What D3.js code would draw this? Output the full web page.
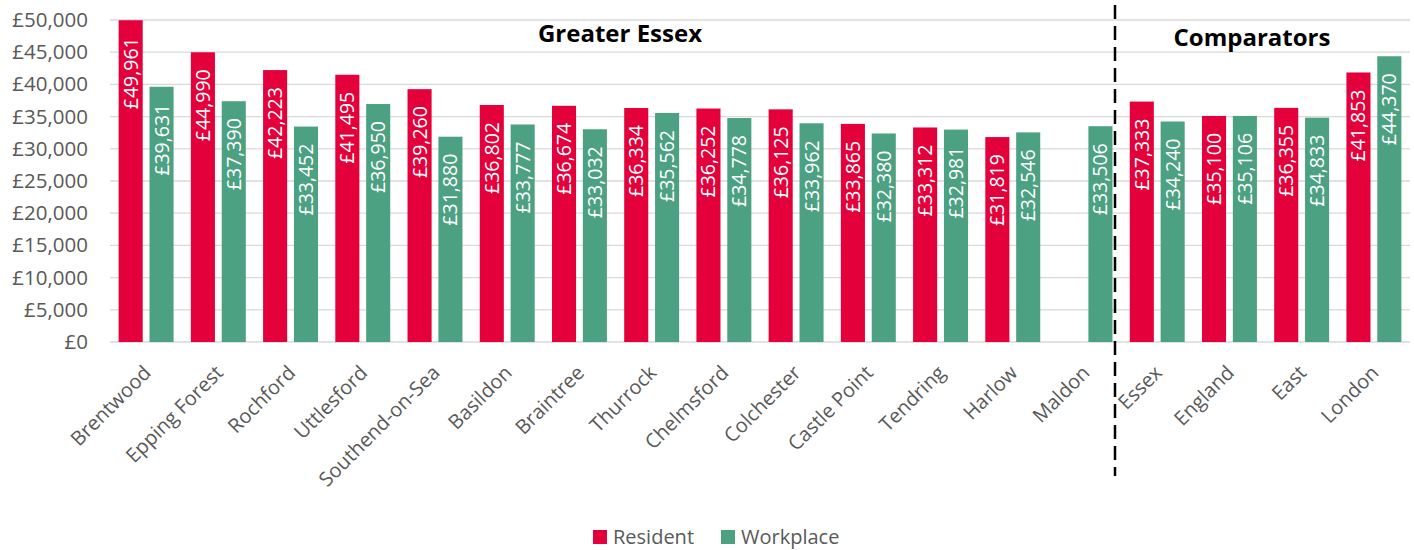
<!DOCTYPE html>
<html><head><meta charset="utf-8">
<script src="https://cdn.jsdelivr.net/npm/d3@7"></script>
<style>body{margin:0;background:#fff;} svg{display:block;}</style>
</head><body>
<svg id="c" width="1414" height="550"></svg>
<script>
const categories = ["Brentwood","Epping Forest","Rochford","Uttlesford","Southend-on-Sea","Basildon","Braintree","Thurrock","Chelmsford","Colchester","Castle Point","Tendring","Harlow","Maldon","Essex","England","East","London"];
const resident = [49961,44990,42223,41495,39260,36802,36674,36334,36252,36125,33865,33312,31819,null,37333,35100,36355,41853];
const workplace = [39631,37390,33452,36950,31880,33777,33032,35562,34778,33962,32380,32981,32546,33506,34240,35106,34833,44370];
const seriesNames = ["Resident","Workplace"];
const colors = ["#E4003B","#4BA182"];
const yTicks = [0,5000,10000,15000,20000,25000,30000,35000,40000,45000,50000];

(function(){
const svg = d3.select("#c");
const font = "Open Sans, sans-serif";
const pLeft = 110, pRight = 1410, pTop = 20, pBottom = 342;
const x = d3.scaleBand().domain(categories).range([pLeft,pRight]).paddingInner(0).paddingOuter(0);
const y = d3.scaleLinear().domain([0,50000]).range([pBottom,pTop]);
const xs = d3.scaleBand().domain(seriesNames).range([0,x.bandwidth()]).paddingInner(0.22).paddingOuter(0.28);

svg.append("g").selectAll("line").data(yTicks).join("line")
  .attr("x1",pLeft).attr("x2",pRight).attr("y1",d=>y(d)).attr("y2",d=>y(d))
  .attr("stroke","#D9D9D9").attr("stroke-width",1.3);

const fmt = d=>"£"+d3.format(",")(d);
const yAxis = svg.append("g").attr("transform",`translate(${pLeft-22},0)`)
  .call(d3.axisLeft(y).tickValues(yTicks).tickFormat(fmt).tickSize(0).tickPadding(0));
yAxis.select(".domain").remove();
yAxis.selectAll("text").attr("font-family",font).attr("font-size",20.5).attr("fill","#595959");

const data = categories.map((c,i)=>({c, vals:[resident[i],workplace[i]]}));
const g = svg.append("g").selectAll("g").data(data).join("g")
  .attr("transform",d=>`translate(${x(d.c)},0)`);
const items = g.selectAll("g").data(d=>d.vals.map((v,j)=>({s:seriesNames[j],v,j})).filter(e=>e.v!=null)).join("g");
items.append("rect")
  .attr("x",e=>xs(e.s)).attr("width",xs.bandwidth())
  .attr("y",e=>y(e.v)).attr("height",e=>y(0)-y(e.v))
  .attr("fill",e=>colors[e.j]);
items.append("text")
  .attr("transform",e=>`translate(${xs(e.s)+xs.bandwidth()/2},${y(e.v)+17}) rotate(-90)`)
  .attr("text-anchor","end").attr("dy","0.36em")
  .attr("font-family",font).attr("font-size",19.5).attr("fill","#fff")
  .text(e=>fmt(e.v));

svg.append("g").selectAll("text").data(categories).join("text")
  .attr("transform",d=>`translate(${x(d)+x.bandwidth()/2+6},${pBottom+32}) rotate(-45)`)
  .attr("text-anchor","end").attr("font-family",font).attr("font-size",20).attr("fill","#595959")
  .text(d=>d);

svg.append("line").attr("x1",1115).attr("x2",1115).attr("y1",5).attr("y2",476)
  .attr("stroke","#000").attr("stroke-width",2.5).attr("stroke-dasharray","14,7");

svg.append("text").attr("x",620).attr("y",42).attr("text-anchor","middle")
  .attr("font-family",font).attr("font-weight","bold").attr("font-size",24).attr("fill","#000").text("Greater Essex");
svg.append("text").attr("x",1252).attr("y",46).attr("text-anchor","middle")
  .attr("font-family",font).attr("font-weight","bold").attr("font-size",24).attr("fill","#000").text("Comparators");

const lg = svg.append("g").selectAll("g").data(seriesNames).join("g")
  .attr("transform",(d,i)=>`translate(${i===0?593:721},530)`);
lg.append("rect").attr("width",14).attr("height",14).attr("fill",(d,i)=>colors[i]);
lg.append("text").attr("x",20).attr("y",14).attr("font-family",font).attr("font-size",20).attr("fill","#595959").text(d=>d);
})();
</script>
</body></html>
